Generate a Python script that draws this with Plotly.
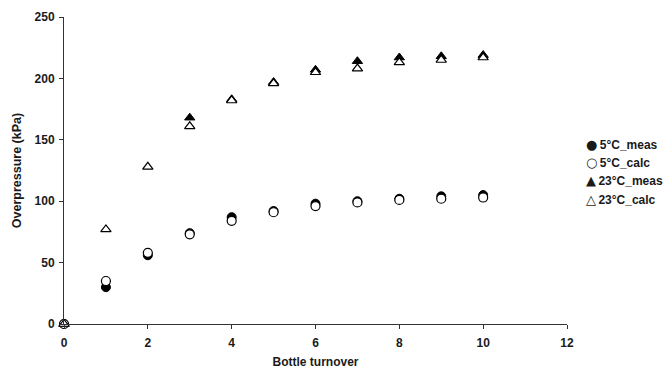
import plotly.graph_objects as go

turnover = [0, 1, 2, 3, 4, 5, 6, 7, 8, 9, 10]
meas_5c = [0, 30, 56, 74, 87, 92, 98, 100, 102, 104, 105]
calc_5c = [0, 35, 58, 73, 84, 91, 96, 99, 101, 102, 103]
turnover_23_meas = [0, 3, 4, 5, 6, 7, 8, 9, 10]
meas_23c = [0, 168, 183, 197, 207, 214, 217, 218, 219]
calc_23c = [0, 77, 128, 161, 182, 196, 205, 208, 213, 215, 217]

series_names = ["5°C_meas", "5°C_calc", "23°C_meas", "23°C_calc"]
legend_glyphs = ["●", "○", "▲", "△"]

font_family = "Liberation Sans, Arial, sans-serif"
ink = "#1a1a1a"

fig = go.Figure()
fig.add_trace(go.Scatter(
    x=turnover, y=meas_5c, mode="markers", name=series_names[0],
    marker=dict(symbol="circle", size=9, color="black", line=dict(color="black", width=1)),
))
fig.add_trace(go.Scatter(
    x=turnover, y=calc_5c, mode="markers", name=series_names[1],
    marker=dict(symbol="circle", size=9, color="white", line=dict(color="black", width=1.2)),
))
fig.add_trace(go.Scatter(
    x=turnover_23_meas, y=meas_23c, mode="markers", name=series_names[2],
    marker=dict(symbol="triangle-up", size=9, color="black", line=dict(color="black", width=1)),
))
fig.add_trace(go.Scatter(
    x=turnover, y=calc_23c, mode="markers", name=series_names[3],
    marker=dict(symbol="triangle-up", size=9, color="white", line=dict(color="black", width=1.2)),
))
fig.update_traces(cliponaxis=False, showlegend=False)

axis_common = dict(
    showgrid=False, zeroline=False, showline=True, linecolor="#333", linewidth=1,
    ticks="outside", ticklen=4, tickcolor="#333",
    tickfont=dict(family=font_family, size=12, color=ink, weight="bold"),
)

# Legend entries drawn as text rows to the right of the plot area
legend_rows_y = [0.586, 0.525, 0.466, 0.406]
annotations = [
    dict(x=1.034, y=yy, xref="paper", yref="paper", xanchor="left", yanchor="middle",
         text=f"<span style='font-family:DejaVu Sans;font-size:13px'>{g}</span>\u2009<b>{n}</b>",
         showarrow=False,
         font=dict(family=font_family, size=12, color=ink))
    for g, n, yy in zip(legend_glyphs, series_names, legend_rows_y)
]

fig.update_layout(
    width=669, height=372,
    margin=dict(l=64, r=102, t=17, b=48, autoexpand=False),
    paper_bgcolor="white", plot_bgcolor="white",
    font=dict(family=font_family, color=ink),
    xaxis=dict(range=[0, 12], tickvals=[0, 2, 4, 6, 8, 10, 12], ticklabelstandoff=4,
               title=dict(text="<b>Bottle turnover</b>",
                          font=dict(size=12, color=ink, family=font_family), standoff=8),
               **axis_common),
    yaxis=dict(range=[0, 250], tickvals=[0, 50, 100, 150, 200, 250], ticklabelstandoff=2,
               title=dict(text="<b>Overpressure (kPa)</b>",
                          font=dict(size=12.5, color=ink, family=font_family), standoff=10),
               **axis_common),
    annotations=annotations,
    showlegend=False,
)

fig.write_html("out.html")
